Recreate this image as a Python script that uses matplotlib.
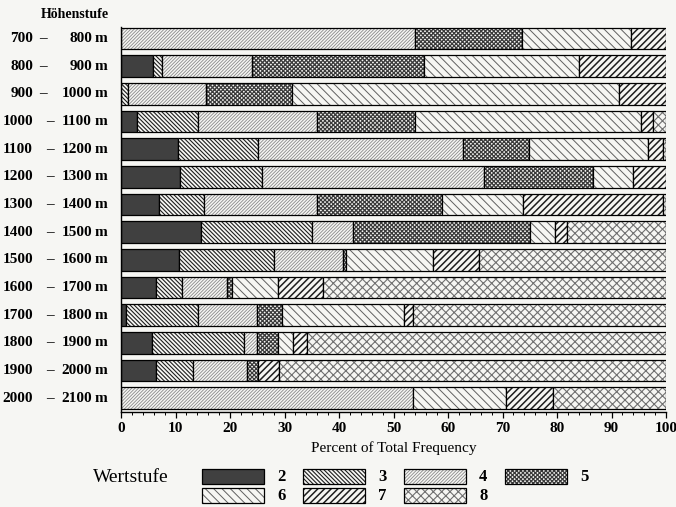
import numpy as np
import matplotlib.pyplot as plt
from matplotlib.patches import Rectangle
from matplotlib.ticker import MultipleLocator

# --- data: share (%) of each Wertstufe per altitude band ---
bands_lo = [700, 800, 900, 1000, 1100, 1200, 1300, 1400, 1500, 1600, 1700, 1800, 1900, 2000]
bands_hi = [800, 900, 1000, 1100, 1200, 1300, 1400, 1500, 1600, 1700, 1800, 1900, 2000, 2100]
classes = ['2', '3', '4', '5', '6', '7', '8']

w2 = [0.0, 5.9, 0.0, 3.0, 10.5, 10.8, 7.0, 14.6, 10.7, 6.4, 1.0, 5.6, 6.4, 0.0]
w3 = [0.0, 1.6, 1.3, 11.2, 14.7, 15.0, 8.2, 20.4, 17.4, 4.8, 13.1, 17.0, 6.8, 0.0]
w4 = [54.0, 16.5, 14.3, 21.8, 37.6, 40.8, 20.7, 7.5, 12.7, 8.2, 10.8, 2.3, 9.9, 53.6]
w5 = [19.5, 31.6, 15.7, 18.0, 12.1, 20.0, 23.0, 32.5, 0.4, 0.9, 4.7, 3.9, 2.0, 0.0]
w6 = [20.0, 28.4, 60.0, 41.4, 21.8, 7.3, 14.9, 4.7, 16.1, 8.5, 22.3, 2.8, 0.0, 17.0]
w7 = [6.5, 16.0, 8.7, 2.3, 2.8, 6.1, 25.6, 2.1, 8.4, 8.3, 1.7, 2.5, 3.9, 8.6]
w8 = [0.0, 0.0, 0.0, 2.3, 0.5, 0.0, 0.6, 18.2, 34.3, 62.9, 46.4, 65.9, 71.0, 20.8]
values = [w2, w3, w4, w5, w6, w7, w8]

# fill colour, hatch, hatch colour, hatch line width
styles = [
    ('#404040', '', '#404040', 0.5),
    (None, '\\' * 8, '#1e1e1e', 0.8),
    (None, '/' * 10, '#8a8a8a', 0.6),
    (None, 'x' * 8, '#3a3a3a', 0.9),
    (None, '\\' * 4, '#606060', 0.7),
    (None, '/' * 5, '#1e1e1e', 1.1),
    (None, 'x' * 4, '#707070', 0.8),
]

bg = '#f6f6f3'
W, H = 676, 507
plt.rcParams['font.family'] = ['Liberation Serif', 'DejaVu Serif']
plt.rcParams['font.weight'] = 'bold'

fig = plt.figure(figsize=(W / 100, H / 100), dpi=100, facecolor=bg)
ax_l, ax_r, ax_t, ax_b = 121, 666, 27, 412
ax = fig.add_axes([ax_l / W, 1 - ax_b / H, (ax_r - ax_l) / W, (ax_b - ax_t) / H])
ax.set_facecolor(bg)


def hatched(patches, face, hatch, hcol, hlw):
    for p in patches:
        p.set_facecolor(face if face else bg)
        p.set_edgecolor(hcol)
        p.set_hatch(hatch)
        p.set_linewidth(0)
        if hasattr(p, 'set_hatch_linewidth'):
            p.set_hatch_linewidth(hlw)


ys = np.arange(len(bands_lo))
left = np.zeros(len(ys))
bh = 0.78
for vals, st in zip(values, styles):
    vals = np.array(vals)
    m = vals > 0
    with plt.rc_context({'hatch.linewidth': st[3]}):
        bars = ax.barh(ys[m], vals[m], left=left[m], height=bh)
        hatched(bars, *st)
    ax.barh(ys[m], vals[m], left=left[m], height=bh, fill=False,
            edgecolor='black', linewidth=0.9)
    left += vals

ax.set_xlim(0, 100)
ax.set_ylim(13.5, -0.42)
ax.set_yticks([])
ax.xaxis.set_major_locator(MultipleLocator(10))
ax.xaxis.set_minor_locator(MultipleLocator(2))
ax.tick_params(axis='x', which='major', length=4, width=0.9, labelsize=11, pad=3)
ax.tick_params(axis='x', which='minor', length=2, width=0.7)
for s in ['top', 'right']:
    ax.spines[s].set_visible(False)
for s in ['left', 'bottom']:
    ax.spines[s].set_linewidth(1.0)
ax.set_xlabel('Percent of Total Frequency', fontsize=11, labelpad=5)


def axx(px):
    return (px - ax_l) / (ax_r - ax_l)


tr = ax.get_yaxis_transform()
for y, lo, hi in zip(ys, bands_lo, bands_hi):
    ax.text(axx(33), y, str(lo), transform=tr, ha='right', va='center', fontsize=11)
    ax.text(axx(43 if lo < 1000 else 50), y, '\u2013', transform=tr, ha='center', va='center', fontsize=11)
    ax.text(axx(92), y, str(hi), transform=tr, ha='right', va='center', fontsize=11)
    ax.text(axx(95), y, 'm', transform=tr, ha='left', va='center', fontsize=11)

fig.text(75 / W, 1 - 14 / H, 'Höhenstufe', ha='center', va='center', fontsize=10)

# --- legend drawn in pixel coordinates ---
lax = fig.add_axes([0, 0, 1, 1], facecolor='none')
lax.set_xlim(0, W)
lax.set_ylim(H, 0)
lax.axis('off')
lax.text(131, 477, 'Wertstufe', ha='center', va='center', fontsize=14, fontweight='normal')
for i, (cl, st) in enumerate(zip(classes, styles)):
    row, col = divmod(i, 4)
    x0 = 202 + col * 101
    y0 = 469 + row * 19
    with plt.rc_context({'hatch.linewidth': st[3]}):
        r = Rectangle((x0, y0), 62, 15)
        hatched([r], *st)
        lax.add_patch(r)
    lax.add_patch(Rectangle((x0, y0), 62, 15, fill=False, edgecolor='black', linewidth=0.9))
    lax.text(x0 + 75, y0 + 8, cl, ha='left', va='center', fontsize=12)

fig.savefig('out.png', dpi=100, facecolor=bg)
